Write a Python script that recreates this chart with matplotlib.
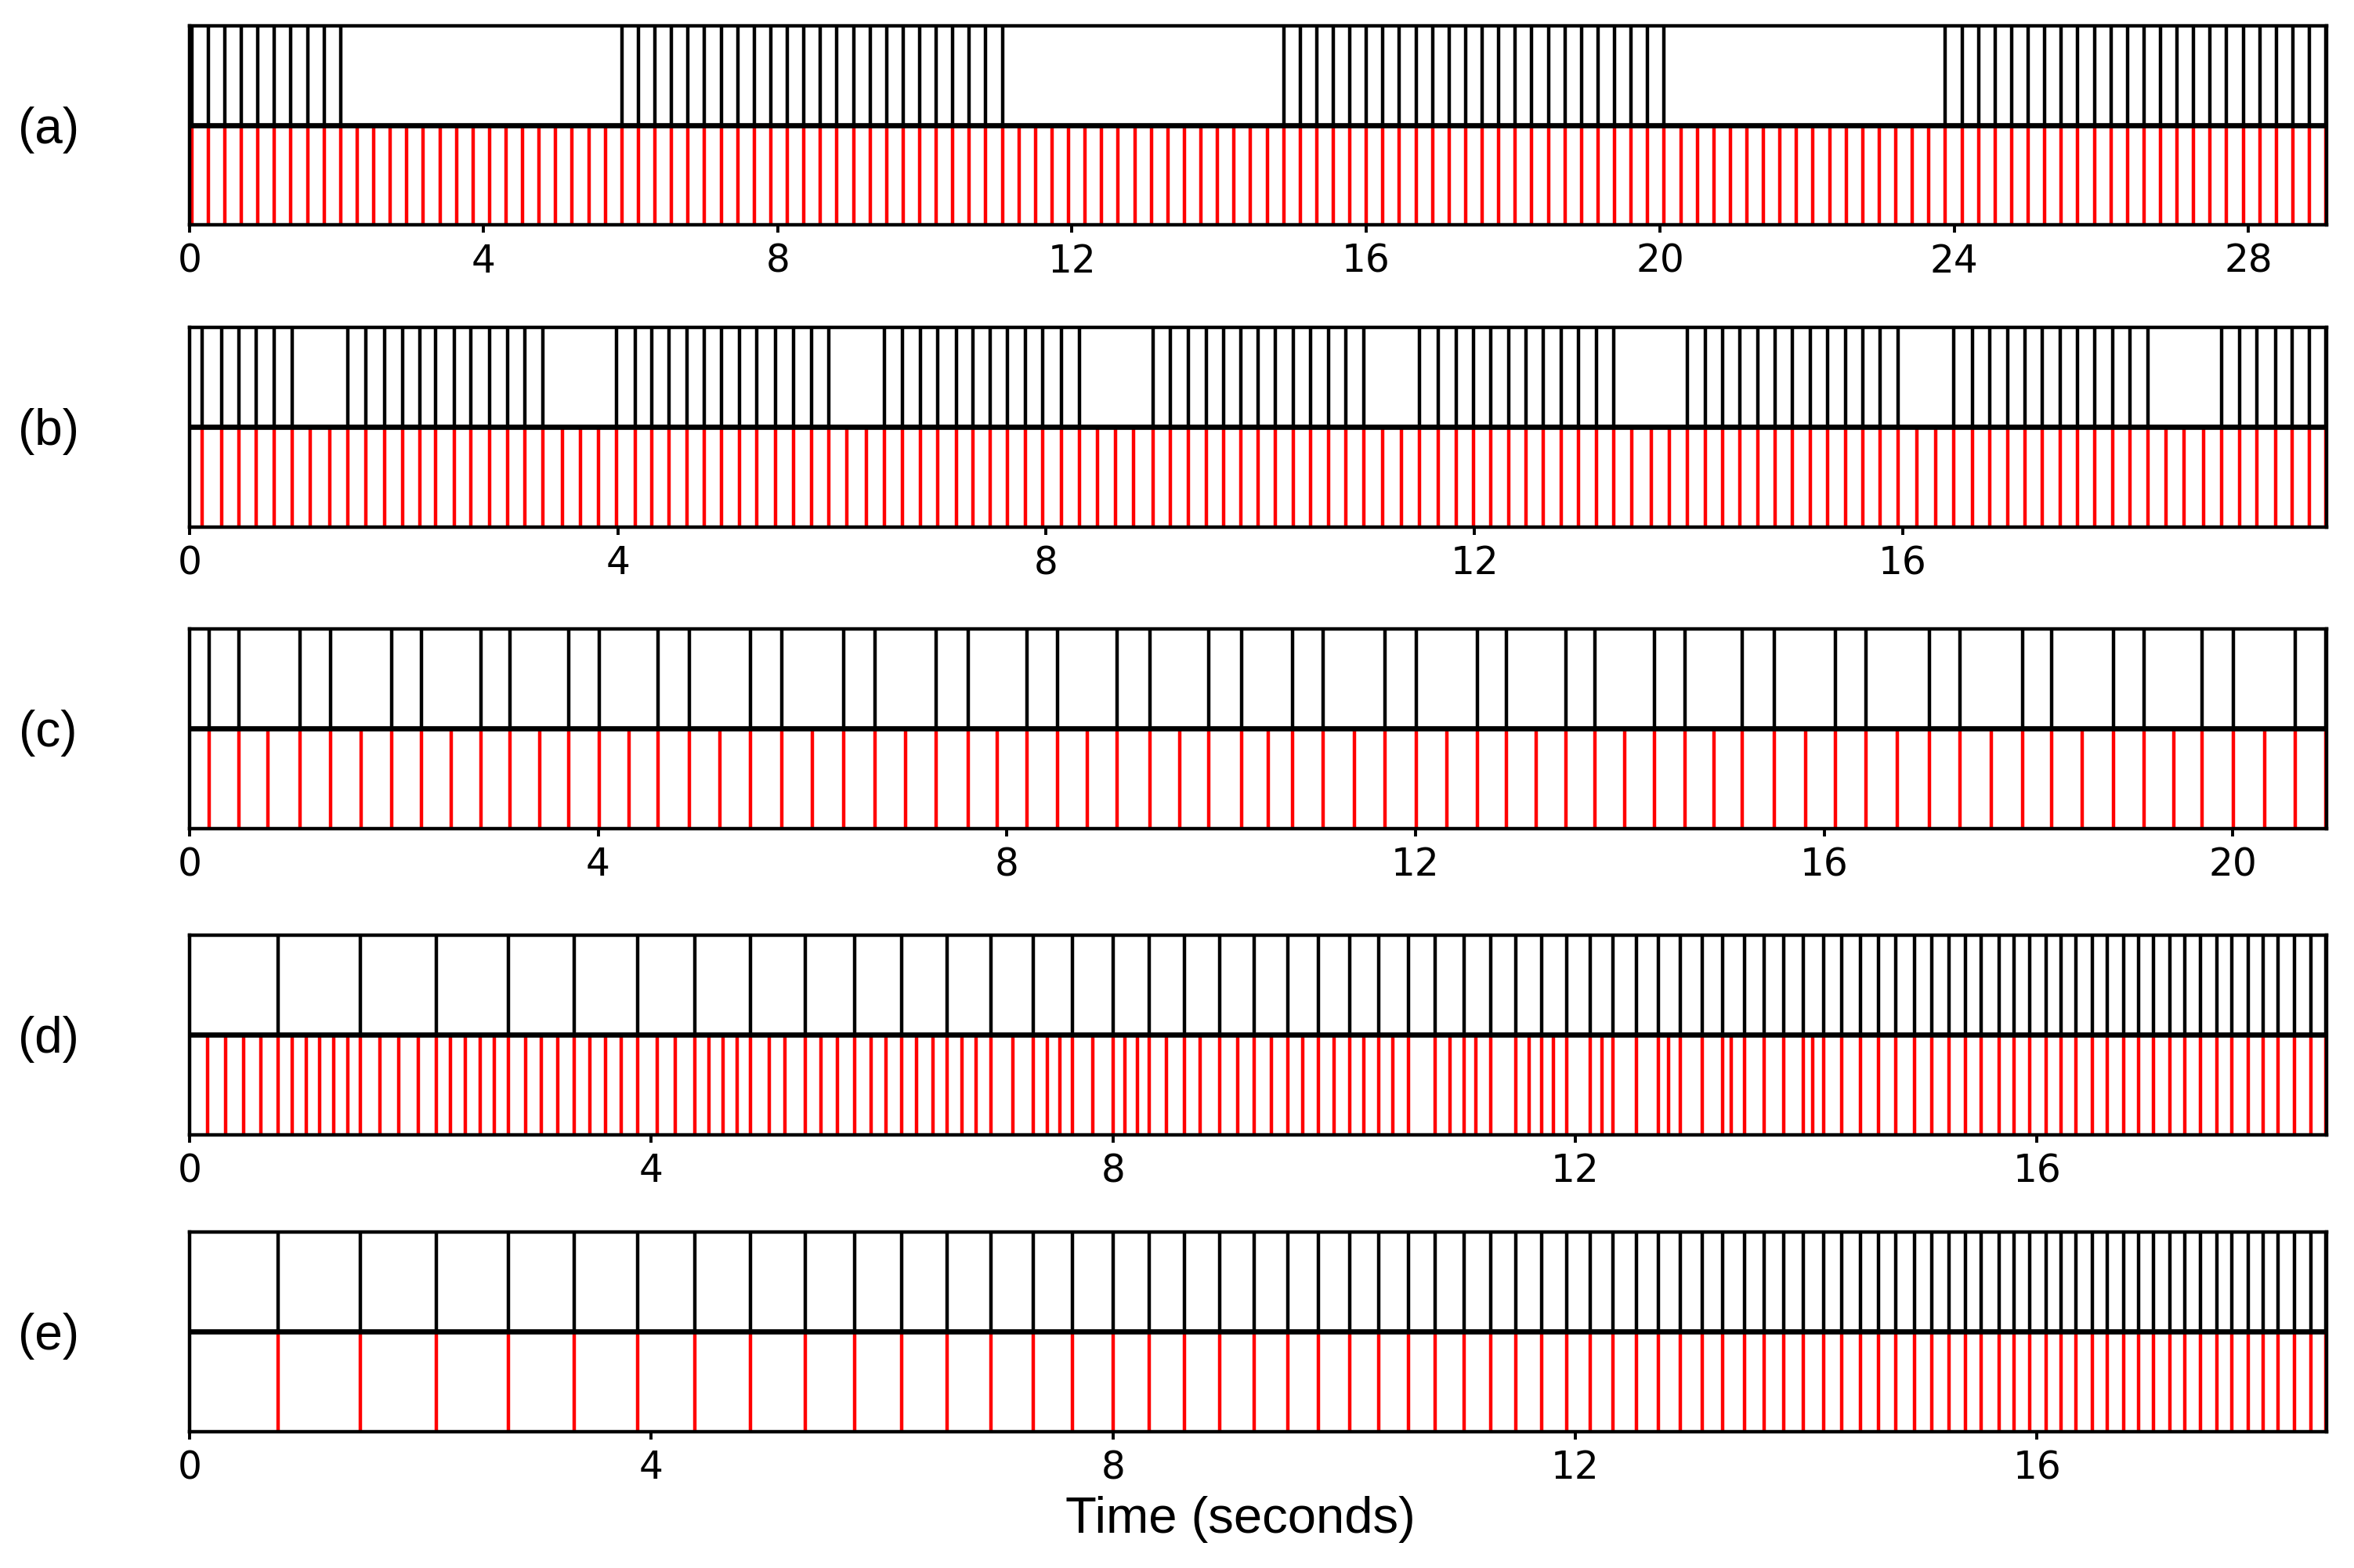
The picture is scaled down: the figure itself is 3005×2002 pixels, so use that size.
import matplotlib
matplotlib.use("Agg")
import matplotlib.pyplot as plt

plt.rcParams["font.family"] = "DejaVu Sans"
plt.rcParams["axes.linewidth"] = 1.6

# ---- event times (seconds), black = input train, red = output train ----
inp_a = [0.03, 0.255, 0.48, 0.705, 0.93, 1.155, 1.38, 1.605, 1.83, 2.055,
         5.88, 6.105, 6.33, 6.555, 6.78, 7.005, 7.23, 7.455, 7.68, 7.905, 8.13, 8.355,
         8.58, 8.805, 9.03, 9.255, 9.48, 9.705, 9.93, 10.155, 10.38, 10.605, 10.83, 11.055,
         14.88, 15.105, 15.33, 15.555, 15.78, 16.005, 16.23, 16.455, 16.68, 16.905, 17.13,
         17.355, 17.58, 17.805, 18.03, 18.255, 18.48, 18.705, 18.93, 19.155, 19.38, 19.605,
         19.83, 20.055,
         23.88, 24.105, 24.33, 24.555, 24.78, 25.005, 25.23, 25.455, 25.68, 25.905, 26.13,
         26.355, 26.58, 26.805, 27.03, 27.255, 27.48, 27.705, 27.93, 28.155, 28.38, 28.605,
         28.83, 29.055]
out_a = [0.03, 0.255, 0.48, 0.705, 0.93, 1.155, 1.38, 1.605, 1.83, 2.055, 2.28, 2.505,
         2.73, 2.955, 3.18, 3.405, 3.63, 3.855, 4.08, 4.305, 4.53, 4.755, 4.98, 5.205, 5.43,
         5.655, 5.88, 6.105, 6.33, 6.555, 6.78, 7.005, 7.23, 7.455, 7.68, 7.905, 8.13, 8.355,
         8.58, 8.805, 9.03, 9.255, 9.48, 9.705, 9.93, 10.155, 10.38, 10.605, 10.83, 11.055,
         11.28, 11.505, 11.73, 11.955, 12.18, 12.405, 12.63, 12.855, 13.08, 13.305, 13.53,
         13.755, 13.98, 14.205, 14.43, 14.655, 14.88, 15.105, 15.33, 15.555, 15.78, 16.005,
         16.23, 16.455, 16.68, 16.905, 17.13, 17.355, 17.58, 17.805, 18.03, 18.255, 18.48,
         18.705, 18.93, 19.155, 19.38, 19.605, 19.83, 20.055, 20.28, 20.505, 20.73, 20.955,
         21.18, 21.405, 21.63, 21.855, 22.08, 22.305, 22.53, 22.755, 22.98, 23.205, 23.43,
         23.655, 23.88, 24.105, 24.33, 24.555, 24.78, 25.005, 25.23, 25.455, 25.68, 25.905,
         26.13, 26.355, 26.58, 26.805, 27.03, 27.255, 27.48, 27.705, 27.93, 28.155, 28.38,
         28.605, 28.83, 29.055]

inp_b = [0.12, 0.30, 0.46, 0.62, 0.79, 0.96,
         1.48, 1.65, 1.82, 1.99, 2.15, 2.30, 2.47, 2.63, 2.80, 2.97, 3.13, 3.30,
         3.99, 4.16, 4.32, 4.48, 4.65, 4.81, 4.97, 5.14, 5.30, 5.47, 5.64, 5.81, 5.97,
         6.49, 6.66, 6.83, 6.99, 7.16, 7.32, 7.48, 7.64, 7.81, 7.97, 8.14, 8.31,
         9.00, 9.16, 9.33, 9.50, 9.66, 9.82, 9.98, 10.14, 10.31, 10.47, 10.64, 10.80, 10.97,
         11.49, 11.66, 11.83, 11.99, 12.15, 12.32, 12.48, 12.64, 12.81, 12.97, 13.14, 13.30,
         13.99, 14.16, 14.32, 14.48, 14.65, 14.81, 14.97, 15.14, 15.30, 15.47, 15.63, 15.79, 15.96,
         16.48, 16.65, 16.81, 16.98, 17.14, 17.30, 17.47, 17.63, 17.79, 17.96, 18.12, 18.29,
         18.98, 19.15, 19.31, 19.48, 19.64, 19.80, 19.95]
out_b = [0.12, 0.30, 0.46, 0.62, 0.79, 0.96, 1.13, 1.31, 1.48, 1.65, 1.82, 1.99, 2.15,
         2.30, 2.47, 2.63, 2.80, 2.97, 3.13, 3.30, 3.48, 3.65, 3.82, 3.99, 4.16, 4.32, 4.48,
         4.65, 4.81, 4.97, 5.14, 5.30, 5.47, 5.64, 5.81, 5.97, 6.14, 6.32, 6.49, 6.66, 6.83,
         6.99, 7.16, 7.32, 7.48, 7.64, 7.81, 7.97, 8.14, 8.31, 8.48, 8.65, 8.82, 9.00, 9.16,
         9.33, 9.50, 9.66, 9.82, 9.98, 10.14, 10.31, 10.47, 10.64, 10.80, 10.97, 11.14, 11.32,
         11.49, 11.66, 11.83, 11.99, 12.15, 12.32, 12.48, 12.64, 12.81, 12.97, 13.14, 13.30,
         13.47, 13.65, 13.82, 13.99, 14.16, 14.32, 14.48, 14.65, 14.81, 14.97, 15.14, 15.30,
         15.47, 15.63, 15.79, 15.96, 16.13, 16.31, 16.48, 16.65, 16.81, 16.98, 17.14, 17.30,
         17.47, 17.63, 17.79, 17.96, 18.12, 18.29, 18.46, 18.63, 18.81, 18.98, 19.15, 19.31,
         19.48, 19.64, 19.80, 19.95]

inp_c = [0.19, 0.48, 1.08, 1.38, 1.98, 2.27, 2.85, 3.14, 3.71, 4.01, 4.59, 4.89, 5.49,
         5.80, 6.40, 6.71, 7.31, 7.62, 8.20, 8.50, 9.08, 9.40, 9.98, 10.30, 10.80, 11.10,
         11.70, 12.01, 12.61, 12.89, 13.47, 13.76, 14.34, 14.64, 15.20, 15.51, 16.11, 16.41,
         17.03, 17.33, 17.94, 18.23, 18.83, 19.13, 19.70, 20.01, 20.61, 20.91]
out_c = [0.19, 0.48, 0.77, 1.08, 1.38, 1.68, 1.98, 2.27, 2.56, 2.85, 3.14, 3.43, 3.71,
         4.01, 4.30, 4.59, 4.89, 5.19, 5.49, 5.80, 6.10, 6.40, 6.71, 7.01, 7.31, 7.62, 7.91,
         8.20, 8.50, 8.79, 9.08, 9.40, 9.69, 9.98, 10.30, 10.56, 10.80, 11.10, 11.40, 11.70,
         12.01, 12.31, 12.61, 12.89, 13.18, 13.47, 13.76, 14.05, 14.34, 14.64, 14.92, 15.20,
         15.51, 15.82, 16.11, 16.41, 16.72, 17.03, 17.33, 17.64, 17.94, 18.23, 18.53, 18.83,
         19.13, 19.42, 19.70, 20.01, 20.31, 20.61, 20.91]

# accelerating input, shared by (d) and (e)
inp_de = [0.77, 1.48, 2.14, 2.76, 3.33, 3.88, 4.38, 4.86, 5.33, 5.76, 6.17, 6.56, 6.94,
          7.31, 7.65, 8.00, 8.31, 8.62, 8.92, 9.22, 9.51, 9.78, 10.05, 10.30, 10.56, 10.79,
          11.04, 11.27, 11.49, 11.71, 11.93, 12.13, 12.33, 12.53, 12.72, 12.91, 13.10, 13.28,
          13.47, 13.64, 13.81, 13.98, 14.15, 14.31, 14.47, 14.63, 14.78, 14.94, 15.09, 15.24,
          15.38, 15.52, 15.67, 15.80, 15.94, 16.08, 16.21, 16.34, 16.48, 16.61, 16.75, 16.88,
          17.01, 17.15, 17.28, 17.42, 17.56, 17.69, 17.83, 17.96, 18.09, 18.23, 18.37, 18.50]
out_d = [0.16, 0.31, 0.47, 0.62, 0.77, 0.89, 1.01, 1.13, 1.25, 1.37, 1.48, 1.65, 1.81,
         1.98, 2.14, 2.26, 2.39, 2.52, 2.64, 2.76, 2.91, 3.05, 3.19, 3.33, 3.47, 3.60, 3.74,
         3.88, 4.05, 4.21, 4.38, 4.50, 4.62, 4.74, 4.86, 5.02, 5.16, 5.33, 5.47, 5.61, 5.76,
         5.90, 6.03, 6.17, 6.30, 6.44, 6.56, 6.69, 6.81, 6.94, 7.13, 7.31, 7.43, 7.54, 7.65,
         7.82, 8.00, 8.10, 8.21, 8.31, 8.46, 8.62, 8.75, 8.92, 9.08, 9.22, 9.37, 9.51, 9.64,
         9.78, 9.91, 10.05, 10.17, 10.30, 10.42, 10.56, 10.79, 10.92, 11.04, 11.14, 11.27,
         11.49, 11.60, 11.71, 11.81, 11.93, 12.13, 12.23, 12.33, 12.53, 12.72, 12.81, 12.91,
         13.10, 13.28, 13.35, 13.47, 13.64, 13.81, 13.98, 14.06, 14.15, 14.31, 14.47, 14.63,
         14.78, 14.94, 15.09, 15.24, 15.38, 15.52, 15.67, 15.80, 15.94, 16.08, 16.21, 16.34,
         16.48, 16.61, 16.75, 16.88, 17.01, 17.15, 17.28, 17.42, 17.56, 17.69, 17.83, 17.96,
         18.09, 18.23, 18.37, 18.50]
out_e = inp_de

panels = [("(a)", inp_a, out_a, range(0, 29, 4)),
          ("(b)", inp_b, out_b, range(0, 17, 4)),
          ("(c)", inp_c, out_c, range(0, 21, 4)),
          ("(d)", inp_de, out_d, range(0, 17, 4)),
          ("(e)", inp_de, out_e, range(0, 17, 4))]

# %%
fig = plt.figure(figsize=(15.025, 10.01), dpi=200)
tops = [0.9837, 0.7912, 0.5989, 0.4036, 0.2143]
h = 0.1273
left, width = 0.0805, 0.9079

for (lab, inp, out, ticks), top in zip(panels, tops):
    ax = fig.add_axes([left, top - h, width, h])
    ax.eventplot([out, inp], lineoffsets=[0.25, 0.75], linelengths=0.5,
                 colors=["red", "black"], linewidths=1.6)
    ax.axhline(0.5, color="black", lw=2.4)
    ax.set_ylim(0, 1)
    ax.set_xlim(0, max(max(inp), max(out)) + 0.01)
    ax.set_yticks([])
    ax.set_xticks(list(ticks))
    ax.tick_params(axis="x", labelsize=17.5, width=1.4, length=3.5, pad=4.5)
    fig.text(0.0205, top - h / 2 - 0.003, lab, ha="center", va="center",
             fontsize=23, family="Liberation Sans")

fig.text(0.527, 0.031, "Time (seconds)", ha="center", va="center",
         fontsize=23.5, family="Liberation Sans")

fig.savefig("out.png", dpi=200)
